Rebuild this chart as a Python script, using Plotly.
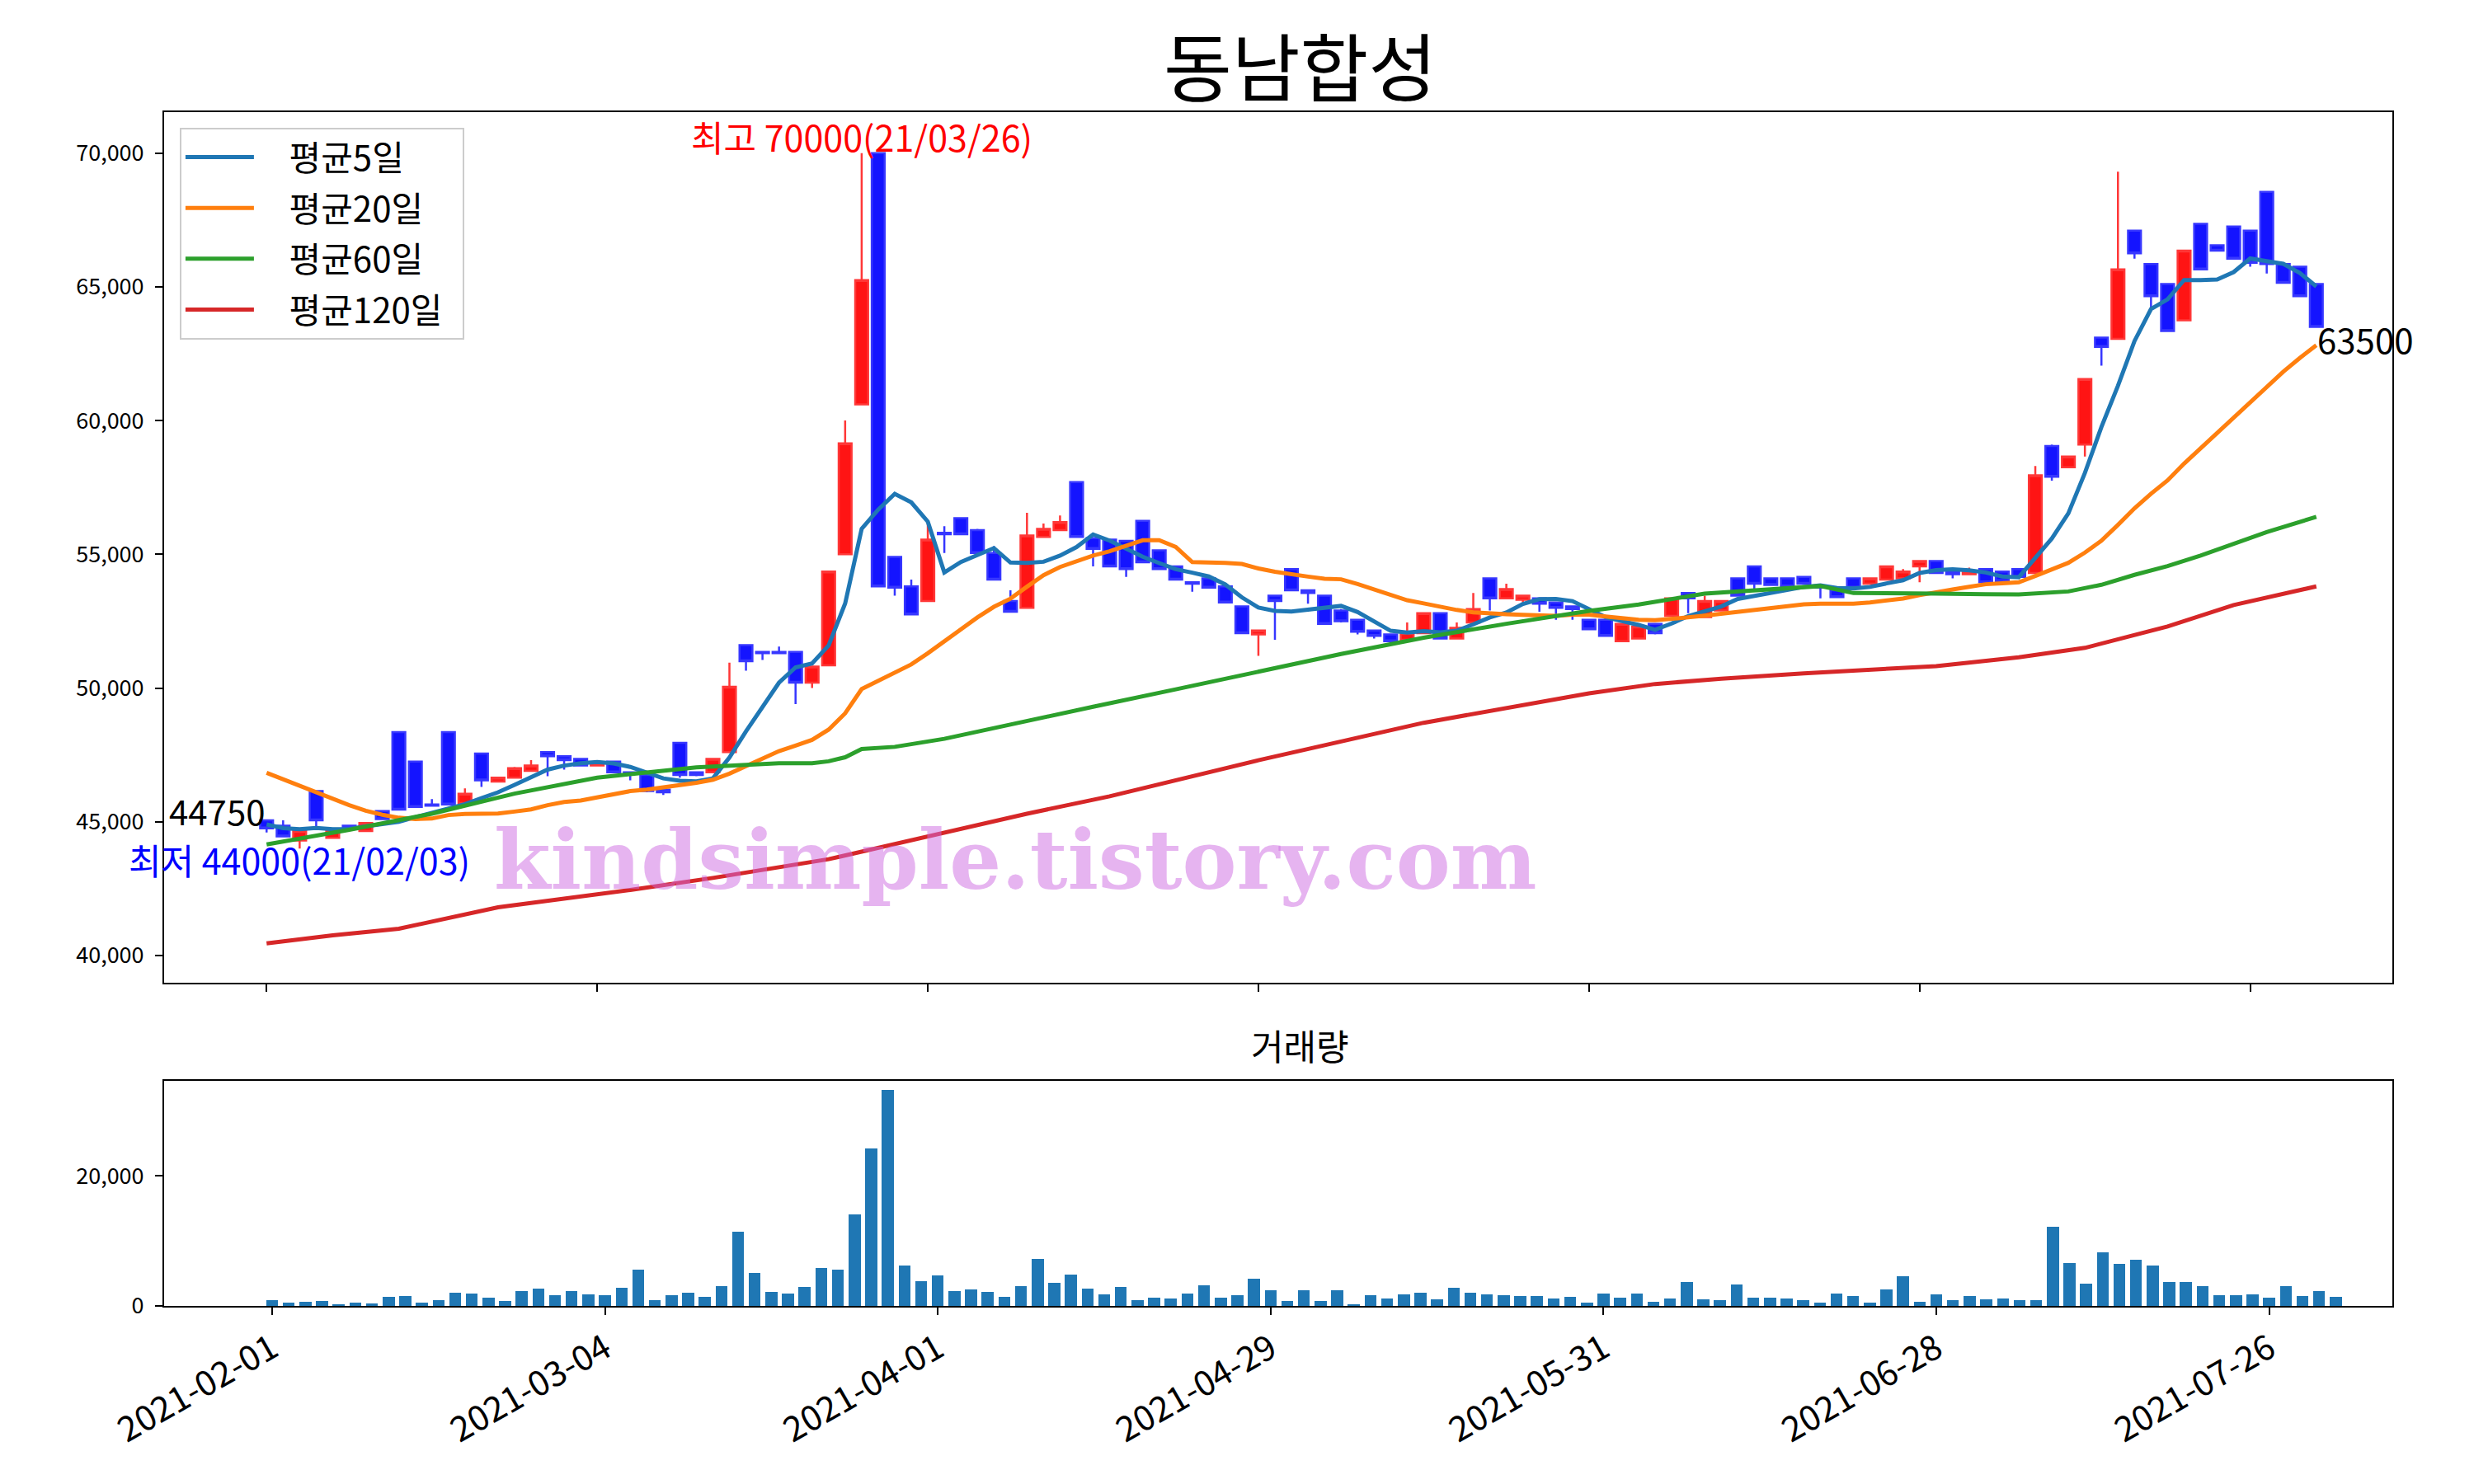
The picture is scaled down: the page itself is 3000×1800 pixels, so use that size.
import plotly.graph_objects as go
import pandas as pd

# ---------------- data ----------------
opens = [45050, 44850, 44300, 46150, 44400, 44850, 44650, 45400, 48350, 47250,
         45650, 48350, 45700, 47550, 46500, 46650, 46900, 47600, 47450, 47350,
         47100, 47250, 46850, 46750, 46200, 47950, 46850, 46850, 47600, 51600,
         51350, 51350, 51350, 50200, 50850, 55000, 60600, 70000, 54900, 53800,
         53250, 55800, 56350, 55900, 55050, 53250, 53000, 55650, 55900, 57700,
         55600, 55550, 55500, 56250, 55150, 54550, 53950, 54100, 53800, 53050,
         52000, 53450, 54450, 53650, 53450, 52900, 52550, 52150, 52000, 51800,
         52050, 52800, 51850, 52450, 54100, 53350, 53300, 53350, 53200, 53050,
         52550, 52550, 51750, 51850, 52400, 52700, 53550, 52650, 52900, 54100,
         54550, 54100, 54100, 54150, 53800, 53650, 54100, 53900, 54050, 54100,
         54550, 54750, 54350, 54250, 54450, 54350, 54450, 54300, 59050, 58250,
         59100, 63100, 63050, 67100, 65850, 65100, 63750, 67350, 66550, 67250,
         67100, 68550, 65850, 65750, 65100]
highs = [45050, 45050, 44650, 46150, 44700, 44850, 44950, 45400, 48350, 47250,
         45850, 48350, 46250, 47550, 46650, 47050, 47300, 47600, 47450, 47350,
         47200, 47250, 46850, 46750, 46200, 47950, 46850, 47350, 50950, 51600,
         51350, 51550, 51350, 50800, 54350, 60000, 70000, 70000, 54900, 54050,
         56150, 56050, 56350, 55950, 55300, 53650, 56550, 56150, 56450, 57700,
         55600, 55550, 55500, 56250, 55150, 54550, 53950, 54100, 53800, 53050,
         52150, 53450, 54450, 53650, 53450, 52950, 52550, 52150, 52000, 52450,
         52800, 52800, 52450, 53550, 54100, 53900, 53450, 53350, 53200, 53050,
         52550, 52550, 52400, 52300, 52400, 53350, 53550, 53450, 53250, 54100,
         54550, 54100, 54100, 54150, 53800, 53650, 54100, 54100, 54550, 54450,
         54750, 54750, 54350, 54500, 54450, 54350, 54450, 58300, 59100, 58650,
         61550, 63100, 69300, 67100, 65850, 65100, 66350, 67350, 66550, 67250,
         67100, 68550, 65850, 65750, 65100]
lows = [44600, 44450, 44000, 44750, 44400, 44800, 44650, 45100, 45450, 45550,
        45600, 45650, 45700, 46300, 46500, 46650, 46900, 46700, 46950, 47100,
        47100, 46850, 46550, 46100, 46000, 46650, 46700, 46850, 47600, 50650,
        51050, 51300, 49400, 50000, 50850, 55000, 60600, 53800, 53450, 52750,
        53250, 55050, 55750, 55050, 54050, 52850, 53000, 55650, 55900, 55650,
        54550, 54550, 54150, 54700, 54450, 54050, 53600, 53750, 53200, 52050,
        51200, 51800, 53650, 53150, 52400, 52450, 52000, 51850, 51750, 51800,
        52050, 51850, 51850, 52450, 52900, 53350, 53200, 52850, 52550, 52550,
        52200, 51950, 51750, 51850, 52000, 52700, 52800, 52650, 52900, 53450,
        53700, 53850, 53800, 53900, 53350, 53400, 53750, 53900, 54050, 54100,
        53950, 54300, 54100, 54250, 53950, 54000, 54150, 54300, 57750, 58250,
        58650, 62050, 63050, 66050, 64200, 63350, 63750, 65650, 66350, 66050,
        65750, 65500, 65150, 64650, 63500]
closes = [44750, 44450, 44650, 45050, 44700, 44800, 44950, 45100, 45450, 45550,
          45600, 45650, 46050, 46550, 46650, 47000, 47100, 47450, 47300, 47100,
          47200, 46850, 46800, 46150, 46100, 46750, 46750, 47350, 50050, 51000,
          51300, 51300, 50200, 50800, 54350, 59150, 65250, 53800, 53750, 52750,
          55550, 55750, 55750, 55050, 54050, 52850, 55700, 55950, 56200, 55650,
          55200, 54550, 54450, 54700, 54450, 54050, 53900, 53750, 53200, 52050,
          52150, 53250, 53650, 53550, 52400, 52500, 52100, 51950, 51750, 52050,
          52800, 51850, 52250, 52950, 53350, 53700, 53450, 53150, 53000, 52950,
          52200, 51950, 52400, 52300, 52050, 53350, 53350, 53250, 53250, 53450,
          53900, 53850, 53800, 53900, 53750, 53400, 53750, 54100, 54550, 54350,
          54750, 54300, 54250, 54350, 53950, 54000, 54150, 57950, 57900, 58650,
          61550, 62750, 65650, 66250, 64650, 63350, 66350, 65650, 66350, 66050,
          65900, 65850, 65150, 64650, 63500]
volumes = [900, 550, 700, 800, 300, 550, 420, 1430, 1550, 550,
           930, 2060, 1930, 1300, 800, 2310, 2690, 1680, 2310, 1810,
           1680, 2820, 5590, 930, 1680, 2060, 1430, 3070, 11430, 5090,
           2190, 1930, 2940, 5840, 5590, 14160, 24340, 33300, 6220, 3820,
           4710, 2310, 2560, 2190, 1430, 3070, 7230, 3570, 4830, 2690,
           1810, 2940, 930, 1300, 1180, 1930, 3190, 1300, 1680, 4200,
           2440, 800, 2440, 800, 2440, 300, 1680, 1180, 1810, 2060,
           1050, 2820, 2060, 1810, 1680, 1550, 1550, 1180, 1430, 550,
           1930, 1300, 1930, 670, 1180, 3700, 1050, 930, 3320, 1300,
           1300, 1180, 930, 550, 1930, 1550, 550, 2560, 4580, 670,
           1810, 930, 1550, 1050, 1180, 930, 930, 12270, 6600, 3450,
           8360, 6470, 7100, 6220, 3700, 3700, 3070, 1680, 1680, 1810,
           1300, 3070, 1550, 2310, 1430]

# moving-average values before enough closes are available
ma5_head = [44900, 44760, 44720, 44770]
ma20_head = [46830, 46590, 46360, 46080, 45840, 45620, 45410, 45260, 45150, 45100,
             45120, 45250, 45290, 45290, 45310, 45380, 45460, 45620, 45740]
# long moving averages (history not shown) at these days
ma60_days = [0, 5, 10, 15, 20, 26, 31, 33, 34, 35, 36, 38, 41, 45, 50, 55, 60, 65, 70,
             75, 80, 83, 87, 90, 94, 96, 98, 101, 104, 106, 109, 111, 113, 115, 117,
             119, 121, 124]
ma60_vals = [44150, 44700, 45300, 46050, 46650, 47030, 47190, 47190, 47260, 47410,
             47720, 47800, 48100, 48650, 49300, 49950, 50600, 51270, 51880, 52400,
             52880, 53120, 53530, 53660, 53810, 53550, 53550, 53530, 53510, 53500,
             53610, 53860, 54230, 54560, 54950, 55410, 55830, 56400]
ma120_days = [0, 4, 8, 14, 22, 27, 34, 40, 46, 51, 60, 70, 80, 84, 88, 93, 98, 101,
              106, 110, 115, 119, 124]
ma120_vals = [40450, 40750, 41000, 41800, 42450, 42900, 43600, 44450, 45300, 45950,
              47300, 48700, 49800, 50150, 50350, 50550, 50700, 50820, 51150, 51500,
              52300, 53100, 53800]

tick_days = [0, 20, 40, 60, 80, 100, 120]
tick_dates = ['2021-02-01', '2021-03-04', '2021-04-01', '2021-04-29',
              '2021-05-31', '2021-06-28', '2021-07-26']

title_text = '동남합성'
vol_title = '거래량'
legend_names = ['평균5일', '평균20일', '평균60일', '평균120일']
hi_date = '21/03/26'
lo_date = '21/02/03'

# ---------------- derived series ----------------
days = list(range(len(closes)))
cs = pd.Series(closes, dtype=float)
ma5 = cs.rolling(5).mean().tolist()
ma5[:len(ma5_head)] = ma5_head
ma20 = cs.rolling(20).mean().tolist()
ma20[:len(ma20_head)] = ma20_head

hi_i = max(range(len(highs)), key=lambda k: highs[k])
lo_i = min(range(len(lows)), key=lambda k: lows[k])

FONT = 'Noto Sans CJK KR'
NB = '\u00a0'

fig = go.Figure()

fig.add_trace(go.Candlestick(
    x=days, open=opens, high=highs, low=lows, close=closes,
    increasing=dict(fillcolor='rgb(255,20,20)', line=dict(color='rgb(255,55,55)', width=2.5)),
    decreasing=dict(fillcolor='rgb(20,20,255)', line=dict(color='rgb(55,55,255)', width=2.5)),
    whiskerwidth=0, showlegend=False, xaxis='x', yaxis='y'))

ma_colors = ['#1f77b4', '#ff7f0e', '#2ca02c', '#d62728']
ma_series = [(days, ma5), (days, ma20), (ma60_days, ma60_vals), (ma120_days, ma120_vals)]
for (xs, ys), name, col in zip(ma_series, legend_names, ma_colors):
    fig.add_trace(go.Scatter(x=xs, y=ys, mode='lines', name=NB * 4 + name + NB * 2,
                             legendgroup=name,
                             line=dict(color=col, width=5), xaxis='x', yaxis='y'))

fig.add_trace(go.Bar(x=days, y=volumes, width=0.72, marker=dict(color='#1f77b4', line=dict(width=0)),
                     showlegend=False, xaxis='x2', yaxis='y2'))

axis_common = dict(showline=True, mirror=True, linecolor='black', linewidth=2,
                   ticks='outside', ticklen=9, tickwidth=2, tickcolor='black',
                   showgrid=False, zeroline=False)
tickfont_y = dict(family=FONT, size=27, color='black')
tickfont_x = dict(family=FONT, size=42, color='black')

# page body adds an 8px offset; margins compensate so the plot areas land where the reference has them
fig.update_layout(
    width=3000, height=1800,
    margin=dict(l=191, r=107, t=128, b=224, pad=0),
    paper_bgcolor='white', plot_bgcolor='white',
    font=dict(family=FONT, color='black'),
    boxgap=0.22, boxgroupgap=0,
    xaxis=dict(domain=[0, 1], anchor='y', range=[-6.2, 128.6], tickvals=tick_days,
               showticklabels=False, rangeslider=dict(visible=False), **axis_common),
    yaxis=dict(domain=[0.2707, 1], anchor='x', range=[38980, 71530],
               tickvals=list(range(40000, 70001, 5000)), tickformat=',',
               ticklabelstandoff=8, tickfont=tickfont_y, **axis_common),
    xaxis2=dict(domain=[0, 1], anchor='y2', range=[-6.49, 127.4], tickvals=tick_days,
                ticktext=tick_dates, tickangle=-30, tickfont=tickfont_x, **axis_common),
    yaxis2=dict(domain=[0, 0.1888], anchor='x2', range=[0, 34700],
                tickvals=[0, 20000], tickformat=',', ticklabelstandoff=8,
                tickfont=tickfont_y, **axis_common),
    legend=dict(x=0.007, y=0.987, xanchor='left', yanchor='top',
                bgcolor='rgba(255,255,255,0.85)', bordercolor='#cccccc', borderwidth=2,
                font=dict(family=FONT, size=42, color='black'), tracegroupgap=4,
                itemwidth=83),
    bargap=0,
    showlegend=True,
)

annotations = [
    dict(text=title_text, xref='paper', yref='paper', x=0.5097, y=1.0405,
         xanchor='center', yanchor='middle', showarrow=False,
         font=dict(family=FONT, size=90, color='black')),
    dict(text=vol_title, xref='paper', yref='paper', x=0.5097, y=0.2189,
         xanchor='center', yanchor='middle', showarrow=False,
         font=dict(family=FONT, size=43, color='black')),
    dict(text=f'최고 {highs[hi_i]}({hi_date})', xref='x', yref='y', x=hi_i, y=highs[hi_i],
         xanchor='center', yanchor='middle', yshift=21, showarrow=False, borderpad=0,
         font=dict(family=FONT, size=43, color='red')),
    dict(text=f'최저 {lows[lo_i]}({lo_date})', xref='x', yref='y', x=lo_i, y=lows[lo_i],
         xanchor='center', yanchor='middle', yshift=-13, showarrow=False, borderpad=0,
         font=dict(family=FONT, size=43, color='blue')),
    dict(text=str(closes[0]), xref='x', yref='y', x=days[0], y=closes[0],
         xanchor='right', yanchor='middle', yshift=22, showarrow=False, borderpad=0,
         font=dict(family=FONT, size=42, color='black')),
    dict(text=str(closes[-1]), xref='x', yref='y', x=days[-1], y=closes[-1],
         xanchor='left', yanchor='middle', yshift=-14, showarrow=False, borderpad=0,
         font=dict(family=FONT, size=42, color='black')),
    dict(text='<b>kindsimple.tistory.com</b>', xref='paper', yref='paper',
         x=(1231 - 199) / 2701.6, y=(1584 - 1043) / 1448.2,
         xanchor='center', yanchor='middle', showarrow=False,
         font=dict(family='DejaVu Serif', size=99, color='rgba(205,105,225,0.5)')),
]
fig.update_layout(annotations=annotations)

fig.write_html('out.html')
